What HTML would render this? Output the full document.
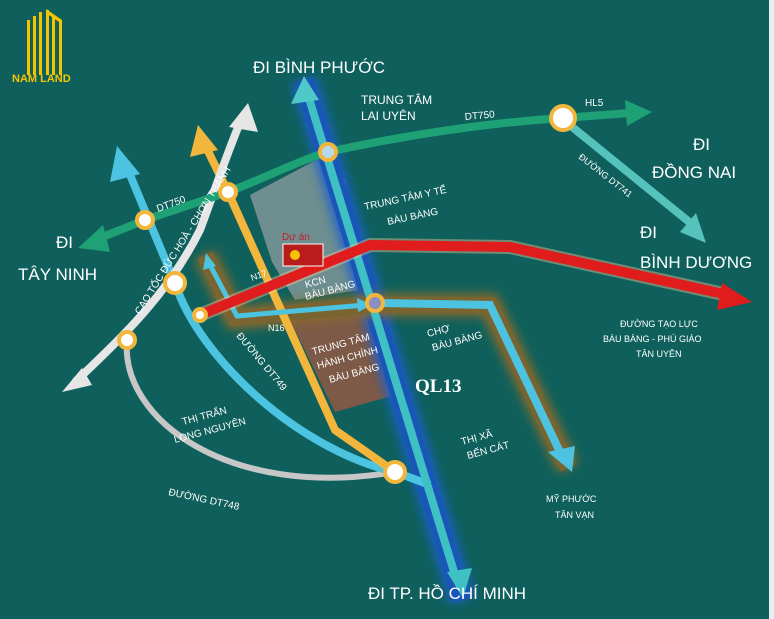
<!DOCTYPE html>
<html><head><meta charset="utf-8"><style>
html,body{margin:0;padding:0;background:#0f605c;}
svg{display:block;font-family:"Liberation Sans",sans-serif;}
</style></head><body>
<svg width="774" height="619" viewBox="0 0 774 619" xmlns="http://www.w3.org/2000/svg">
<defs>
<filter id="glow" x="-20%" y="-20%" width="140%" height="140%"><feGaussianBlur stdDeviation="5"/></filter>
</defs>
<rect width="774" height="619" fill="#0f605c"/>
<rect x="769" y="0" width="5" height="619" fill="#e8efee"/>
<!-- logo -->
<g fill="#f5c400">
<rect x="27" y="20" width="3" height="55"/><rect x="33" y="16" width="3" height="59"/><rect x="39" y="12" width="3" height="63"/>
<rect x="46" y="10" width="3" height="65"/><rect x="52" y="16" width="3" height="59"/><rect x="59" y="22" width="3" height="53"/>
<polygon points="46,9 62,20 62,24 46,13"/>
</g>
<text x="12" y="82" font-size="11" font-weight="bold" fill="#f5c400">NAM LAND</text>
<!-- project areas -->
<polygon points="250,195 320,158 345,180 360,290 295,300 272,262" fill="#8f9da0" opacity="0.75"/>
<polygon points="290,320 385,300 395,395 335,412" fill="#8a5a45" opacity="0.9"/>
<!-- glow for QL13 -->
<line x1="304" y1="80" x2="462" y2="600" stroke="#1f5fd0" stroke-width="26" filter="url(#glow)" opacity="0.9"/>
<line x1="304" y1="80" x2="462" y2="600" stroke="#1a56b8" stroke-width="18"/>
<!-- orange glow route -->
<polyline points="205,255 235,318 375,305 490,305 568,468" fill="none" stroke="#8a6a2a" stroke-width="22" filter="url(#glow)"/>
<polyline points="205,255 235,318 375,305 490,305 568,468" fill="none" stroke="#7a6430" stroke-width="16"/>
<!-- gray DT748 -->
<path d="M127,340 C120,420 230,500 395,472" fill="none" stroke="#c7c7c7" stroke-width="6"/>
<!-- light blue DT749 -->
<path d="M128,170 L175,283 C200,360 300,450 395,472 L430,485" fill="none" stroke="#4cc3e0" stroke-width="8"/>
<polygon points="117,146 110,182 140,174" fill="#4cc3e0"/>
<!-- yellow N17 -->
<polyline points="205,145 228,192 335,430 395,472" fill="none" stroke="#f2b63c" stroke-width="8"/>
<polygon points="198,125 190,157 218,150" fill="#f2b63c"/>
<!-- white Cao toc -->
<path d="M75,382 C130,330 170,290 200,230 C215,190 228,150 242,118" fill="none" stroke="#e6e6e6" stroke-width="8"/>
<polygon points="248,103 229,127 258,132" fill="#e6e6e6"/>
<polygon points="62,392 82,368 92,385" fill="#e6e6e6"/>
<!-- green DT750 -->
<path d="M95,240 L145,220 L228,192 C260,180 300,160 328,152 C420,132 500,122 563,118 L630,113" fill="none" stroke="#1ea275" stroke-width="8"/>
<polygon points="78,248 103,225 110,252" fill="#1ea275"/>
<polygon points="652,112 625,100 627,126" fill="#1ea275"/>
<!-- DT741 -->
<line x1="566" y1="122" x2="693" y2="225" stroke="#55c2bb" stroke-width="8"/>
<polygon points="706,243 680,232 696,213" fill="#55c2bb"/>
<!-- QL13 teal -->
<line x1="308" y1="95" x2="455" y2="575" stroke="#3fc0c2" stroke-width="8"/>
<polygon points="304,76 291,104 319,100" fill="#4fc8c8"/>
<polygon points="463,598 447,572 472,568" fill="#3fc0c2"/>
<!-- blue N16 -> My Phuoc -->
<polyline points="210,265 237,316 365,305" fill="none" stroke="#4cc3e0" stroke-width="5"/>
<polygon points="206,253 203,270 216,266" fill="#4cc3e0"/>
<polygon points="372,305 357,298 358,312" fill="#4cc3e0"/>
<polyline points="378,303 490,305 560,452" fill="none" stroke="#4cc3e0" stroke-width="8"/>
<polygon points="572,472 548,452 575,446" fill="#4cc3e0"/>
<!-- red road -->
<polyline points="200,315 370,245 510,247 728,295" fill="none" stroke="#ffd0a0" stroke-width="14" opacity="0.4"/>
<polyline points="200,315 370,245 510,247 728,295" fill="none" stroke="#e01c1c" stroke-width="10"/>
<polygon points="752,302 722,283 717,310" fill="#e01c1c"/>
<!-- du an -->
<rect x="283" y="244" width="40" height="22" fill="#b81c1c" stroke="#fff" stroke-width="1"/>
<circle cx="295" cy="255" r="5" fill="#f5c400"/>
<text x="282" y="240" font-size="10" fill="#c0202a">Dự án</text>
<!-- circles -->
<g fill="#fff" stroke="#f2b63c" stroke-width="4">
<circle cx="328" cy="152" r="8" fill="#b8d8f0"/>
<circle cx="228" cy="192" r="8"/>
<circle cx="145" cy="220" r="8"/>
<circle cx="175" cy="283" r="10"/>
<circle cx="200" cy="315" r="6"/>
<circle cx="375" cy="303" r="8" fill="#8a8ec0"/>
<circle cx="127" cy="340" r="8"/>
<circle cx="395" cy="472" r="10"/>
<circle cx="563" cy="118" r="12"/>
</g>
<!-- text labels -->
<g fill="#fff">
<text x="253" y="73" font-size="17">ĐI BÌNH PHƯỚC</text>
<text x="56" y="248" font-size="17">ĐI</text>
<text x="18" y="280" font-size="17">TÂY NINH</text>
<text x="693" y="150" font-size="17">ĐI</text>
<text x="652" y="178" font-size="17">ĐỒNG NAI</text>
<text x="640" y="238" font-size="17">ĐI</text>
<text x="640" y="268" font-size="17">BÌNH DƯƠNG</text>
<text x="368" y="599" font-size="17">ĐI TP. HỒ CHÍ MINH</text>
<text x="361" y="104" font-size="12">TRUNG TÂM</text>
<text x="361" y="120" font-size="12">LAI UYÊN</text>
<text x="465" y="120" font-size="10" transform="rotate(-5 465 120)">DT750</text>
<text x="585" y="106" font-size="10">HL5</text>
<text x="578" y="158" font-size="9" transform="rotate(38 578 158)">ĐƯỜNG DT741</text>
<text x="365" y="210" font-size="10" transform="rotate(-12 365 210)">TRUNG TÂM Y TẾ</text>
<text x="388" y="225" font-size="10" transform="rotate(-12 388 225)">BÀU BÀNG</text>
<text x="158" y="212" font-size="10" transform="rotate(-20 158 212)">DT750</text>
<text x="140" y="315" font-size="10" transform="rotate(-58 140 315)">CAO TỐC ĐỨC HOÀ - CHƠN THÀNH</text>
<text x="252" y="281" font-size="9" transform="rotate(-20 252 281)">N17</text>
<text x="268" y="331" font-size="9">N16</text>
<text x="306" y="288" font-size="10" transform="rotate(-15 306 288)">KCN</text>
<text x="306" y="300" font-size="10" transform="rotate(-15 306 300)">BÀU BÀNG</text>
<text x="313" y="355" font-size="10" transform="rotate(-15 313 355)">TRUNG TÂM</text>
<text x="318" y="369" font-size="10" transform="rotate(-15 318 369)">HÀNH CHÍNH</text>
<text x="330" y="383" font-size="10" transform="rotate(-15 330 383)">BÀU BÀNG</text>
<text x="428" y="337" font-size="10" transform="rotate(-15 428 337)">CHỢ</text>
<text x="433" y="351" font-size="10" transform="rotate(-15 433 351)">BÀU BÀNG</text>
<text x="415" y="392" font-size="19" font-weight="bold" font-family="Liberation Serif,serif">QL13</text>
<text x="236" y="336" font-size="10" transform="rotate(50 236 336)">ĐƯỜNG DT749</text>
<text x="183" y="425" font-size="10" transform="rotate(-15 183 425)">THỊ TRẤN</text>
<text x="175" y="443" font-size="10" transform="rotate(-15 175 443)">LONG NGUYÊN</text>
<text x="168" y="495" font-size="10" transform="rotate(12 168 495)">ĐƯỜNG DT748</text>
<text x="462" y="445" font-size="10" transform="rotate(-15 462 445)">THỊ XÃ</text>
<text x="468" y="459" font-size="10" transform="rotate(-15 468 459)">BẾN CÁT</text>
<text x="546" y="502" font-size="9">MỸ PHƯỚC</text>
<text x="555" y="518" font-size="9">TÂN VẠN</text>
<text x="620" y="327" font-size="9">ĐƯỜNG TẠO LỰC</text>
<text x="603" y="342" font-size="9">BÀU BÀNG - PHÚ GIÁO</text>
<text x="636" y="357" font-size="9">TÂN UYÊN</text>
</g>
</svg>
</body></html>
